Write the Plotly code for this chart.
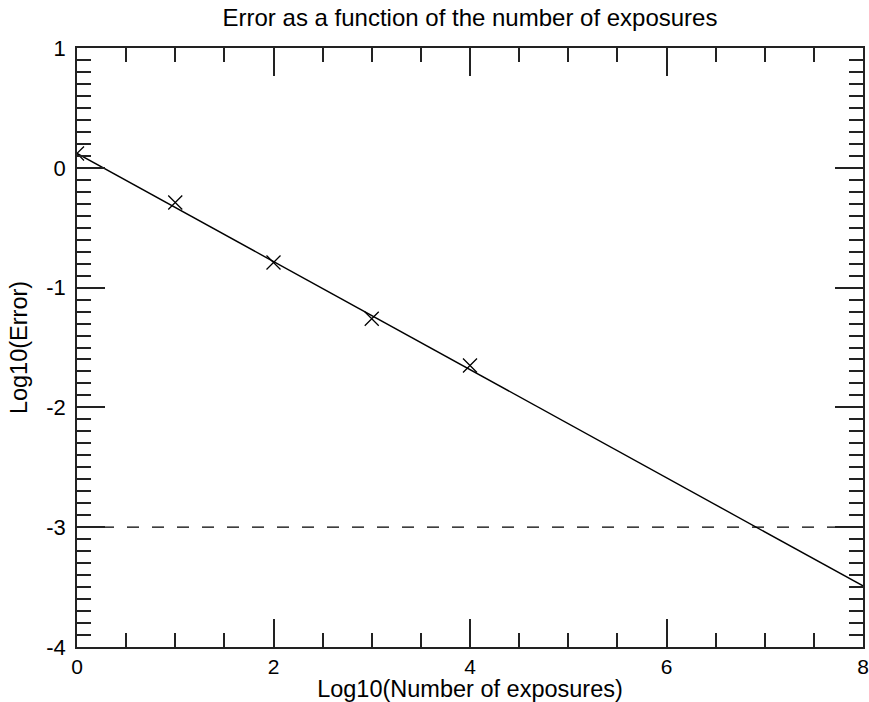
import plotly.graph_objects as go

# Data
meas_x = [0, 1, 2, 3, 4]
meas_y = [0.12, -0.29, -0.79, -1.26, -1.65]
fit_x = [0, 8]
fit_y = [0.12, -3.49]
thresh_x = [0, 8]
thresh_y = [-3, -3]
x_tickvals = [0, 2, 4, 6, 8]
x_ticktext = ["0", "2", "4", "6", "8"]
y_tickvals = [1, 0, -1, -2, -3, -4]
y_ticktext = ["1", "0", "-1", "-2", "-3", "-4"]

FONT = "Liberation Sans, Arial, Helvetica, sans-serif"
INK = "#222222"

fig = go.Figure()
fig.add_trace(go.Scatter(x=thresh_x, y=thresh_y, mode="lines",
                         line=dict(color="black", width=1.3, dash="12px,13px"),
                         showlegend=False, hoverinfo="skip"))
fig.add_trace(go.Scatter(x=fit_x, y=fit_y, mode="lines",
                         line=dict(color="black", width=1.4),
                         showlegend=False))
fig.add_trace(go.Scatter(x=meas_x, y=meas_y, mode="markers",
                         marker=dict(symbol="x-thin-open", size=14, color="black",
                                     line=dict(color="black", width=1.3)),
                         showlegend=False))

fig.update_layout(
    width=869, height=702,
    margin=dict(l=77, r=6, t=48, b=55),
    paper_bgcolor="white", plot_bgcolor="white",
    font=dict(family=FONT, color="black", size=21),
    title=dict(text="Error as a function of the number of exposures",
               x=(77 + 863) / 2 / 869, xanchor="center",
               y=1 - 18 / 702, yanchor="middle", yref="container",
               font=dict(size=24, family=FONT, color="black")),
)
fig.update_xaxes(
    range=[0, 8], showgrid=False, zeroline=False, automargin=False,
    showline=True, linecolor=INK, linewidth=1.5, mirror="ticks",
    ticks="inside", ticklen=28, tickwidth=1.5, tickcolor=INK,
    tickvals=x_tickvals, ticktext=x_ticktext,
    tickfont=dict(size=21, family=FONT),
    minor=dict(dtick=0.5, tick0=0, ticks="inside", ticklen=14,
               tickwidth=1.5, tickcolor=INK, showgrid=False),
    title=dict(text="Log10(Number of exposures)", standoff=0,
               font=dict(size=23.5, family=FONT)),
)
fig.update_yaxes(
    range=[-4, 1], showgrid=False, zeroline=False, automargin=False,
    showline=True, linecolor=INK, linewidth=1.5, mirror="ticks",
    ticks="inside", ticklen=28, tickwidth=1.5, tickcolor=INK,
    tickvals=y_tickvals, ticktext=y_ticktext,
    tickfont=dict(size=22, family=FONT),
    ticklabelstandoff=5,
    minor=dict(dtick=0.1, tick0=0, ticks="inside", ticklen=14,
               tickwidth=1.5, tickcolor=INK, showgrid=False),
    title=dict(text="Log10(Error)", standoff=12,
               font=dict(size=23.5, family=FONT)),
)

fig.write_html("out.html", config={"displayModeBar": False},
               post_script="document.body.style.margin='0';document.body.style.overflow='hidden';")
